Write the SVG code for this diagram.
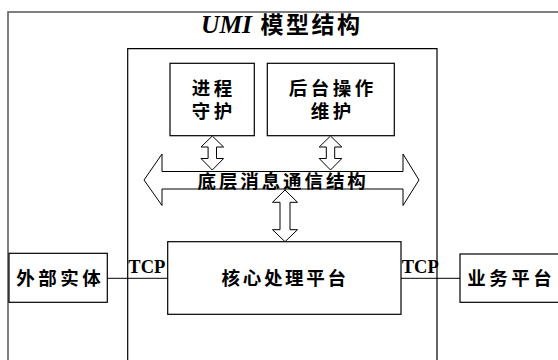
<svg xmlns="http://www.w3.org/2000/svg" width="558" height="360" viewBox="0 0 558 360">
<style>
.box{fill:#fff;stroke:#000;stroke-width:1.2}
.frame{fill:none;stroke:#000;stroke-width:1.2}
.outer{fill:none;stroke:#555;stroke-width:1.5}
.arr{fill:#fff;stroke:#000;stroke-width:1}
.line{fill:none;stroke:#000;stroke-width:1}
.cjk{font-family:"Noto Sans CJK SC","Noto Sans CJK JP",sans-serif;font-weight:bold;font-size:18.5px;letter-spacing:3.5px;fill:#000}
.tcp{font-family:"Liberation Serif",serif;font-weight:bold;font-size:18.5px;fill:#000}
</style>
<rect width="558" height="360" fill="#fff"/>
<g id="outer-frame">
<path class="outer" d="M8,362 V12 H560"/>
<text x="201" y="33" style="font-family:'Liberation Serif',serif;font-style:italic;font-weight:bold;font-size:25.5px;fill:#000">UMI</text>
<text x="260.5" y="33" class="cjk" style="font-size:23px;letter-spacing:2.5px">模型结构</text>
</g>
<g id="inner-frame">
<path class="frame" d="M127.7,362 V48.7 H437 V362"/>
</g>
<g id="process-guard">
<rect class="box" x="170" y="63.3" width="84.3" height="72.4"/>
<text class="cjk"><tspan x="191.8" y="95.2">进程</tspan><tspan x="191.8" y="117.7">守护</tspan></text>
</g>
<g id="backend-maint">
<rect class="box" x="267.3" y="63.3" width="127" height="72.4"/>
<text class="cjk"><tspan x="288.8" y="95.2">后台操作</tspan><tspan x="310.8" y="117.7">维护</tspan></text>
</g>
<g id="external">
<rect class="box" x="9" y="253.3" width="98.3" height="49"/>
<text x="16.2" y="284.7" class="cjk">外部实体</text>
</g>
<g id="core">
<rect class="box" x="167.7" y="241.7" width="233.3" height="72.6"/>
<text x="221.5" y="284.7" class="cjk" style="letter-spacing:2.7px">核心处理平台</text>
</g>
<g id="business">
<rect class="box" x="460" y="254" width="99" height="48.3"/>
<text x="467.2" y="284.7" class="cjk">业务平台</text>
</g>
<g id="connectors">
<polygon class="arr" points="144,180 162,154 162,171.5 403,171.5 403,154 419,180 403,205.5 403,189 162,189 162,205.5"/>
<polygon class="arr" points="212.3,136 223.6,147 216.5,147 216.5,158.5 223.6,158.5 212.3,170 201,158.5 208.1,158.5 208.1,147 201,147"/>
<polygon class="arr" points="330.5,136 341.8,147 334.7,147 334.7,158.5 341.8,158.5 330.5,170 319.2,158.5 326.3,158.5 326.3,147 319.2,147"/>
<polygon class="arr" points="285,190 297.5,202.3 290,202.3 290,229.7 297.5,229.7 285,241.7 272.5,229.7 280,229.7 280,202.3 272.5,202.3"/>
<path class="line" d="M107.3,278.3 H167.7 M401,278.3 H460"/>
<text x="128.3" y="273.3" class="tcp">TCP</text>
<text x="401.7" y="273.3" class="tcp">TCP</text>
</g>
<text x="197.5" y="187.6" class="cjk" style="letter-spacing:2.9px">底层消息通信结构</text>
</svg>
